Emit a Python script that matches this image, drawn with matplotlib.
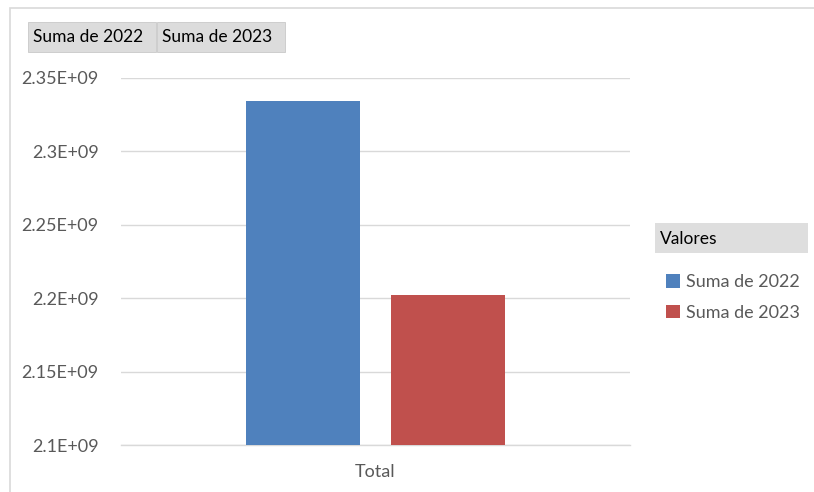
import numpy as np
import matplotlib.pyplot as plt
from matplotlib.patches import Rectangle

# Datos
categorias = ['Total']
series = ['Suma de 2022', 'Suma de 2023']
valores = [2.3343e9, 2.2022e9]
colores = ['#4f81bd', '#c0504d']
yticks = [2.1e9, 2.15e9, 2.2e9, 2.25e9, 2.3e9, 2.35e9]
ytick_labels = ['2.1E+09', '2.15E+09', '2.2E+09', '2.25E+09', '2.3E+09', '2.35E+09']

plt.rcParams['font.family'] = ['Lato', 'DejaVu Sans']

W, H = 814, 492
fig = plt.figure(figsize=(W / 100, H / 100), dpi=100)
fig.patch.set_facecolor('white')

# Marco del grafico
fig.add_artist(Rectangle((10 / W, -0.01), 1.0, 1 - 8 / H + 0.01, transform=fig.transFigure,
                         fill=False, edgecolor='#d9d9d9', linewidth=1.2))

ax = fig.add_axes([121 / W, 1 - 445 / H, (630 - 121) / W, (445 - 78) / H])

x = np.arange(len(categorias))
ancho = 0.225
desplaz = [-0.142, 0.142]
barras = []
for i, (nombre, v) in enumerate(zip(series, valores)):
    b = ax.bar(x + desplaz[i], [v], width=ancho, color=colores[i], label=nombre, zorder=3)
    barras.append(b)

ax.set_xlim(-0.5, 0.5)
ax.set_ylim(2.1e9, 2.35e9)
ax.set_yticks(yticks)
ax.set_yticklabels(ytick_labels)
ax.set_xticks(x)
ax.set_xticklabels(categorias)
ax.tick_params(axis='both', length=0, labelsize=13, labelcolor='#595959')
ax.tick_params(axis='y', pad=16)
ax.tick_params(axis='x', pad=14)
ax.grid(axis='y', color='#d9d9d9', linewidth=1, zorder=0)
for s in ['top', 'right', 'left']:
    ax.spines[s].set_visible(False)
ax.spines['bottom'].set_color('#d9d9d9')
ax.spines['bottom'].set_linewidth(1)

# Botones de campo
for x0, x1, txt in [(28, 156, 'Suma de 2022'), (157, 285, 'Suma de 2023')]:
    fig.add_artist(Rectangle((x0 / W, 1 - 52 / H), (x1 - x0) / W, 30 / H, transform=fig.transFigure,
                             facecolor='#dcdcdc', edgecolor='#c8c8c8', linewidth=0.6))
    fig.text((x0 + 5) / W, 1 - 37.5 / H, txt, fontsize=12.5, color='black', va='center', ha='left')

# Leyenda
fig.add_artist(Rectangle((655 / W, 1 - 253 / H), 153 / W, 30 / H, transform=fig.transFigure,
                         facecolor='#dedede', edgecolor='none'))
fig.text(660 / W, 1 - 238.5 / H, 'Valores', fontsize=12.5, color='black', va='center', ha='left')
leg = fig.legend(handles=[b[0] for b in barras], labels=series, loc='upper left',
                 bbox_to_anchor=(650 / W, 1 - 258 / H), frameon=False, fontsize=13,
                 handlelength=0.75, handleheight=0.75, handletextpad=0.35, labelspacing=0.8,
                 labelcolor='#595959')

fig.savefig('out.png', dpi=100, facecolor='white')
